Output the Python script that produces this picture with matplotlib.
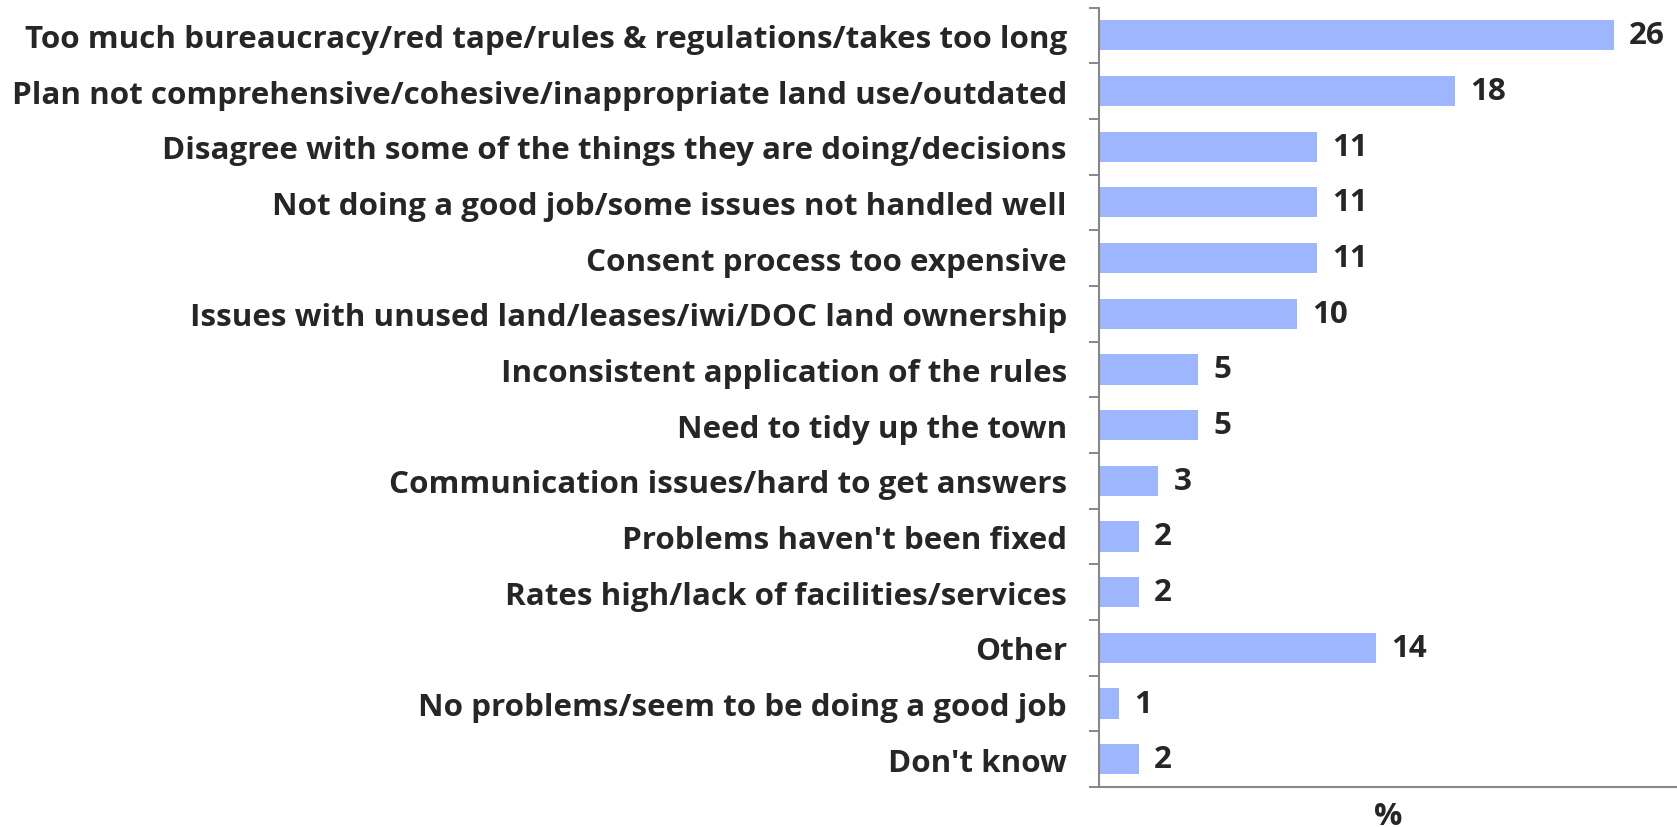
import matplotlib

matplotlib.use("Agg")
import matplotlib.pyplot as plt
import numpy as np

CATEGORIES = [
    "Too much bureaucracy/red tape/rules & regulations/takes too long",
    "Plan not comprehensive/cohesive/inappropriate land use/outdated",
    "Disagree with some of the things they are doing/decisions",
    "Not doing a good job/some issues not handled well",
    "Consent process too expensive",
    "Issues with unused land/leases/iwi/DOC land ownership",
    "Inconsistent application of the rules",
    "Need to tidy up the town",
    "Communication issues/hard to get answers",
    "Problems haven't been fixed",
    "Rates high/lack of facilities/services",
    "Other",
    "No problems/seem to be doing a good job",
    "Don't know",
]
VALUES = [26, 18, 11, 11, 11, 10, 5, 5, 3, 2, 2, 14, 1, 2]

BAR_COLOR = "#9DB6FD"
TEXT_COLOR = "#262626"
AXIS_COLOR = "#878787"

plt.rcParams["font.family"] = ["Open Sans", "DejaVu Sans"]

fig = plt.figure(figsize=(16.77, 8.28), dpi=100)
ax = fig.add_axes([0.6553, 0.0483, 0.3447, 0.9413])

# size the labels so the longest one spans ~1040 px
probe = fig.text(0, 0, max(CATEGORIES, key=len), fontsize=20, fontweight="bold")
width_px = probe.get_window_extent(fig.canvas.get_renderer()).width
probe.remove()
font_size = 20 * 1040 / width_px

y = np.arange(len(CATEGORIES))
ax.barh(y, VALUES, height=0.54, color=BAR_COLOR, edgecolor="none")

for yi, v in zip(y, VALUES):
    ax.annotate(str(v), xy=(v, yi), xytext=(11, 0), textcoords="offset points",
                va="center", ha="left", fontsize=font_size, fontweight="bold",
                color=TEXT_COLOR)

ax.set_xlim(0, 29.2)
ax.set_ylim(len(CATEGORIES) - 0.5, -0.5)

ax.set_yticks(y)
ax.set_yticklabels(CATEGORIES, fontsize=font_size, fontweight="bold", color=TEXT_COLOR)
ax.set_yticks(np.arange(-0.5, len(CATEGORIES), 1.0), minor=True)
ax.tick_params(axis="y", which="major", length=0, pad=23)
ax.tick_params(axis="y", which="minor", length=7.5, width=1.4, color=AXIS_COLOR)
ax.set_xticks([])

for side in ("top", "right"):
    ax.spines[side].set_visible(False)
for side in ("left", "bottom"):
    ax.spines[side].set_color(AXIS_COLOR)
    ax.spines[side].set_linewidth(1.5)

ax.set_xlabel("%", fontsize=font_size, fontweight="bold", color=TEXT_COLOR, labelpad=10)

fig.savefig("out.png", dpi=100)
